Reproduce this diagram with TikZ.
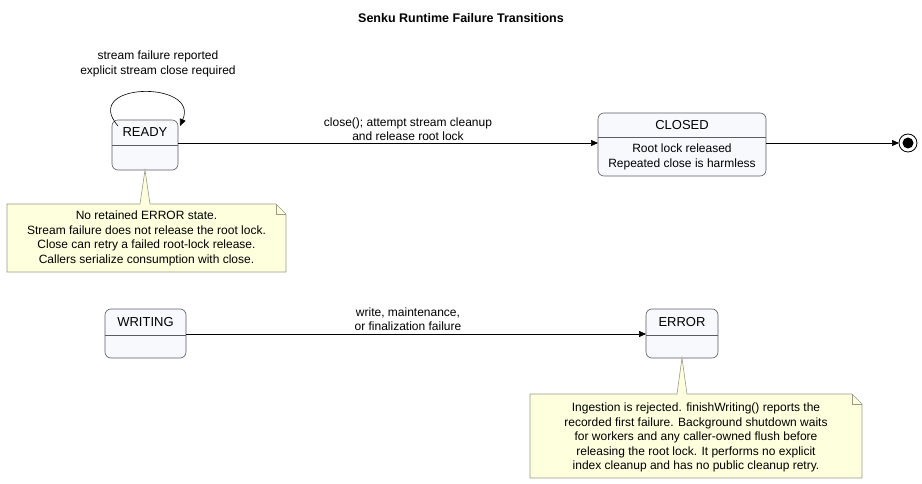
\documentclass[tikz,border=0pt]{standalone}
\usepackage{fontspec}
\setmainfont{Liberation Sans}
\usetikzlibrary{arrows.meta,positioning}
\definecolor{stfill}{HTML}{F8F9FC}
\definecolor{stdraw}{HTML}{5B5B6B}
\definecolor{notefill}{HTML}{FEFFDD}
\definecolor{notedraw}{HTML}{9A9A8A}
\tikzset{
  state/.style={draw=stdraw, fill=stfill, rounded corners=6pt, line width=0.6pt},
  trans/.style={-{Triangle[length=7pt,width=6pt]}, line width=0.6pt},
  lbl/.style={font=\fontsize{12}{14.5}\selectfont, align=center},
  note/.style={draw=notedraw, fill=notefill, line width=0.6pt}
}
\begin{document}
\begin{tikzpicture}[x=1pt,y=-1pt]
\useasboundingbox (0,0) rectangle (922,484);
\node[font=\bfseries\fontsize{12.5}{14}\selectfont] (title) at (461,18) {Senku Runtime Failure Transitions};

% states
\draw[state] (112,120) rectangle (178,170);
\draw[stdraw, line width=0.6pt] (112,145) -- (178,145);
\node[lbl, font=\fontsize{13}{15}\selectfont] (ready) at (145,132) {READY};
\coordinate (readyE) at (178,143);

\draw[state] (598,113) rectangle (766,176);
\draw[stdraw, line width=0.6pt] (598,137) -- (766,137);
\node[lbl, font=\fontsize{13}{15}\selectfont] (closed) at (682,125) {CLOSED};
\node[lbl] (closedtxt) at (682,157) {Root lock released\\Repeated close is harmless};
\coordinate (closedW) at (598,143);
\coordinate (closedE) at (766,143);

\draw[state] (105,309) rectangle (186,358);
\draw[stdraw, line width=0.6pt] (105,335) -- (186,335);
\node[lbl, font=\fontsize{13}{15}\selectfont] (writing) at (145.5,322) {WRITING};
\coordinate (writingE) at (186,334);

\draw[state] (646,309) rectangle (718,358);
\draw[stdraw, line width=0.6pt] (646,335) -- (718,335);
\node[lbl, font=\fontsize{13}{15}\selectfont] (error) at (682,322) {ERROR};
\coordinate (errorW) at (646,334);

% final state
\draw[line width=0.8pt] (908,143) circle (9);
\fill (908,143) circle (5.5);
\coordinate (final) at (899,143);

% transitions
\coordinate (loopA) at (118,126);
\coordinate (loopB) at (180,126);
\draw[trans] (loopA) .. controls (80,82) and (200,80) .. (loopB);
\node[lbl] (looplbl) at (158,64) {stream failure reported\\explicit stream close required};

\draw[trans] (readyE) -- (closedW);
\node[lbl] (closelbl) at (408,129) {close(); attempt stream cleanup\\and release root lock};
\draw[trans] (closedE) -- (final);

\draw[trans] (writingE) -- (errorW);
\node[lbl] (faillbl) at (408,319) {write, maintenance,\\or finalization failure};

% notes
\draw[note] (7,204) -- (140,204) -- (145,170) -- (150,204) -- (276,204) -- (286,214)
  -- (286,272) -- (7,272) -- cycle;
\draw[notedraw, line width=0.6pt] (276,204) -- (276,214) -- (286,214);
\node[lbl] (note1) at (146.5,238.5) {No retained ERROR state.\\Stream failure does not release the root lock.\\Close can retry a failed root-lock release.\\Callers serialize consumption with close.};

\draw[note] (530,394) -- (677,394) -- (682,358) -- (687,394) -- (852,394) -- (862,404)
  -- (862,478) -- (530,478) -- cycle;
\draw[notedraw, line width=0.6pt] (852,394) -- (852,404) -- (862,404);
\node[lbl] (note2) at (696,437.5) {Ingestion is rejected. finishWriting() reports the\\recorded first failure. Background shutdown waits\\for workers and any caller-owned flush before\\releasing the root lock. It performs no explicit\\index cleanup and has no public cleanup retry.};
\end{tikzpicture}
\end{document}
